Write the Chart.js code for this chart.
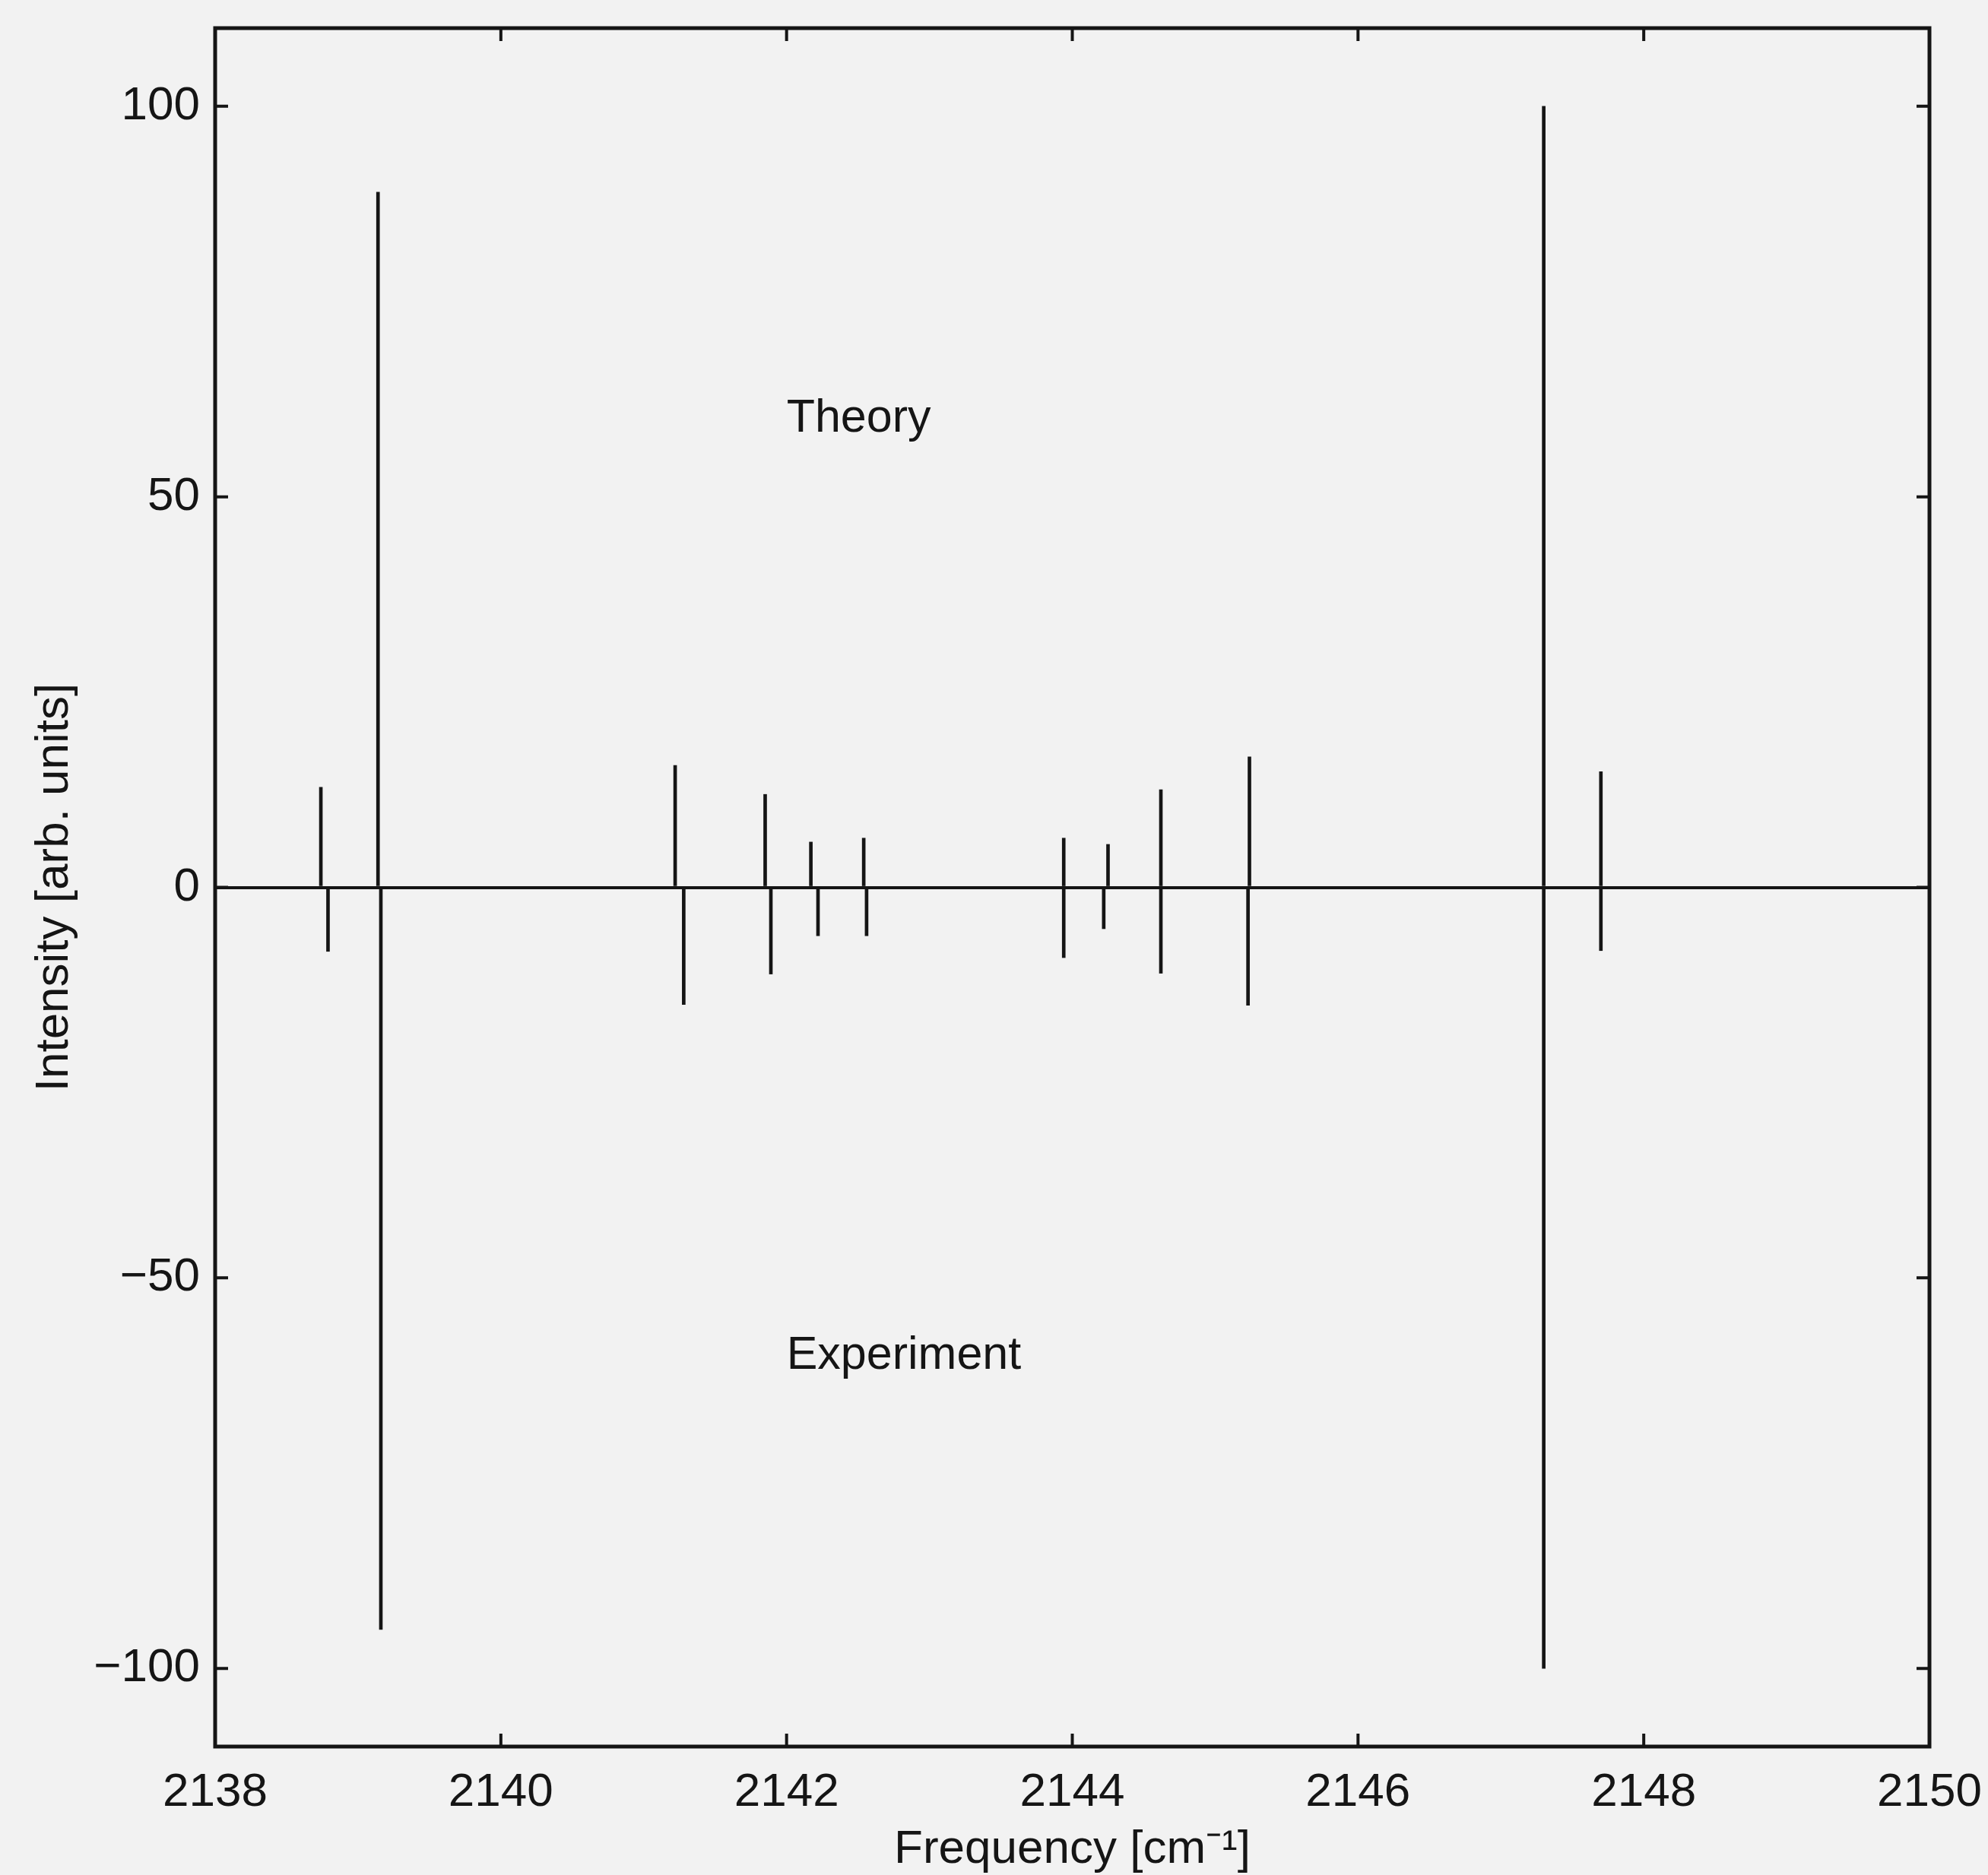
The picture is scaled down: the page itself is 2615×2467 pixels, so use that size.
<!DOCTYPE html>
<html>
<head>
<meta charset="utf-8">
<title>Theory vs Experiment stick spectrum</title>
<script src="https://cdn.jsdelivr.net/npm/chart.js@4.4.1/dist/chart.umd.min.js"></script>
<style>
  html, body { margin: 0; padding: 0; background: #f2f2f2; }
  canvas { display: block; }
</style>
</head>
<body>
<canvas id="spectrum" width="2615" height="2467"></canvas>
<script>
// stick positions (cm-1) and intensities
const theoryFreq = [2138.74, 2139.14, 2141.22, 2141.85, 2142.17, 2142.54, 2143.94, 2144.25, 2144.62, 2145.24, 2147.30, 2147.70];
const theoryInt  = [12.8, 89, 15.6, 11.9, 5.8, 6.3, 6.3, 5.5, 12.5, 16.7, 100, 14.8];
const exptFreq   = [2138.79, 2139.16, 2141.28, 2141.89, 2142.22, 2142.56, 2143.94, 2144.22, 2144.62, 2145.23, 2147.30, 2147.70];
const exptInt    = [8.2, 95, 15.0, 11.1, 6.2, 6.2, 9.0, 5.3, 11.0, 15.1, 100, 8.1];

const xTicks = [2138, 2140, 2142, 2144, 2146, 2148, 2150];
const yTicks = [-100, -50, 0, 50, 100];

// in-plot labels, in data coordinates
const plotLabels = [
  { text: 'Theory', x: 2142.0, y: 60 },
  { text: 'Experiment', x: 2142.0, y: -60 }
];

const FONT = '"Liberation Sans", Arial, Helvetica, sans-serif';
const INK = '#151515';

// box around the axes with inward ticks on all sides + text labels
const frameTicks = {
  id: 'frameTicks',
  afterDraw(chart) {
    const { ctx, chartArea: a, scales: { x, y } } = chart;
    ctx.save();
    ctx.strokeStyle = INK;
    ctx.lineWidth = 5;
    ctx.strokeRect(a.left, a.top, a.right - a.left, a.bottom - a.top);

    ctx.lineWidth = 4;
    const len = 17;
    ctx.beginPath();
    for (const v of xTicks) {
      const px = x.getPixelForValue(v);
      ctx.moveTo(px, a.bottom); ctx.lineTo(px, a.bottom - len);
      ctx.moveTo(px, a.top); ctx.lineTo(px, a.top + len);
    }
    for (const v of yTicks) {
      const py = y.getPixelForValue(v);
      ctx.moveTo(a.left, py); ctx.lineTo(a.left + len, py);
      ctx.moveTo(a.right, py); ctx.lineTo(a.right - len, py);
    }
    ctx.stroke();

    ctx.fillStyle = INK;
    ctx.font = '61px ' + FONT;
    ctx.textAlign = 'left';
    ctx.textBaseline = 'middle';
    for (const l of plotLabels) {
      ctx.fillText(l.text, x.getPixelForValue(l.x), y.getPixelForValue(l.y));
    }
    ctx.restore();
  }
};

const ctx = document.getElementById('spectrum').getContext('2d');
new Chart(ctx, {
  type: 'bar',
  data: {
    datasets: [
      {
        label: 'Theory',
        data: theoryFreq.map((f, i) => ({ x: f, y: theoryInt[i] })),
        backgroundColor: INK,
        barThickness: 4,
        grouped: false
      },
      {
        label: 'Experiment',
        data: exptFreq.map((f, i) => ({ x: f, y: -exptInt[i] })),
        backgroundColor: INK,
        barThickness: 4,
        grouped: false
      }
    ]
  },
  options: {
    responsive: false,
    animation: false,
    layout: { padding: { top: 37, right: 77, left: 0, bottom: 0 } },
    plugins: {
      legend: { display: false },
      tooltip: { enabled: false }
    },
    scales: {
      x: {
        type: 'linear',
        min: 2138,
        max: 2150,
        offset: false,
        afterBuildTicks: s => { s.ticks = xTicks.map(v => ({ value: v })); },
        afterFit: s => {
          s.height = 169;
          s.paddingLeft = 0;
          s.paddingRight = 0;
        },
        grid: { display: false },
        border: { display: false },
        ticks: {
          color: INK,
          padding: 16,
          maxRotation: 0,
          font: { family: FONT, size: 62 },
          callback: v => String(v)
        },
        title: {
          display: true,
          text: 'Frequency [cm\u207B\u00B9]',
          color: INK,
          font: { family: FONT, size: 62 },
          padding: { top: 0, bottom: -4 }
        }
      },
      y: {
        min: -110,
        max: 110,
        afterBuildTicks: s => { s.ticks = yTicks.map(v => ({ value: v })); },
        afterFit: s => {
          s.width = 283;
          s.paddingTop = 0;
          s.paddingBottom = 0;
        },
        grid: {
          drawTicks: false,
          lineWidth: 4,
          color: c => (c.tick && c.tick.value === 0 ? INK : 'rgba(0,0,0,0)')
        },
        border: { display: false },
        ticks: {
          color: INK,
          padding: 20,
          font: { family: FONT, size: 62 },
          callback: v => (v < 0 ? '\u2212' + Math.abs(v) : String(v))
        },
        title: {
          display: true,
          text: 'Intensity [arb. units]',
          color: INK,
          font: { family: FONT, size: 62 },
          padding: { top: 35, bottom: 0 }
        }
      }
    }
  },
  plugins: [frameTicks]
});
</script>
</body>
</html>
